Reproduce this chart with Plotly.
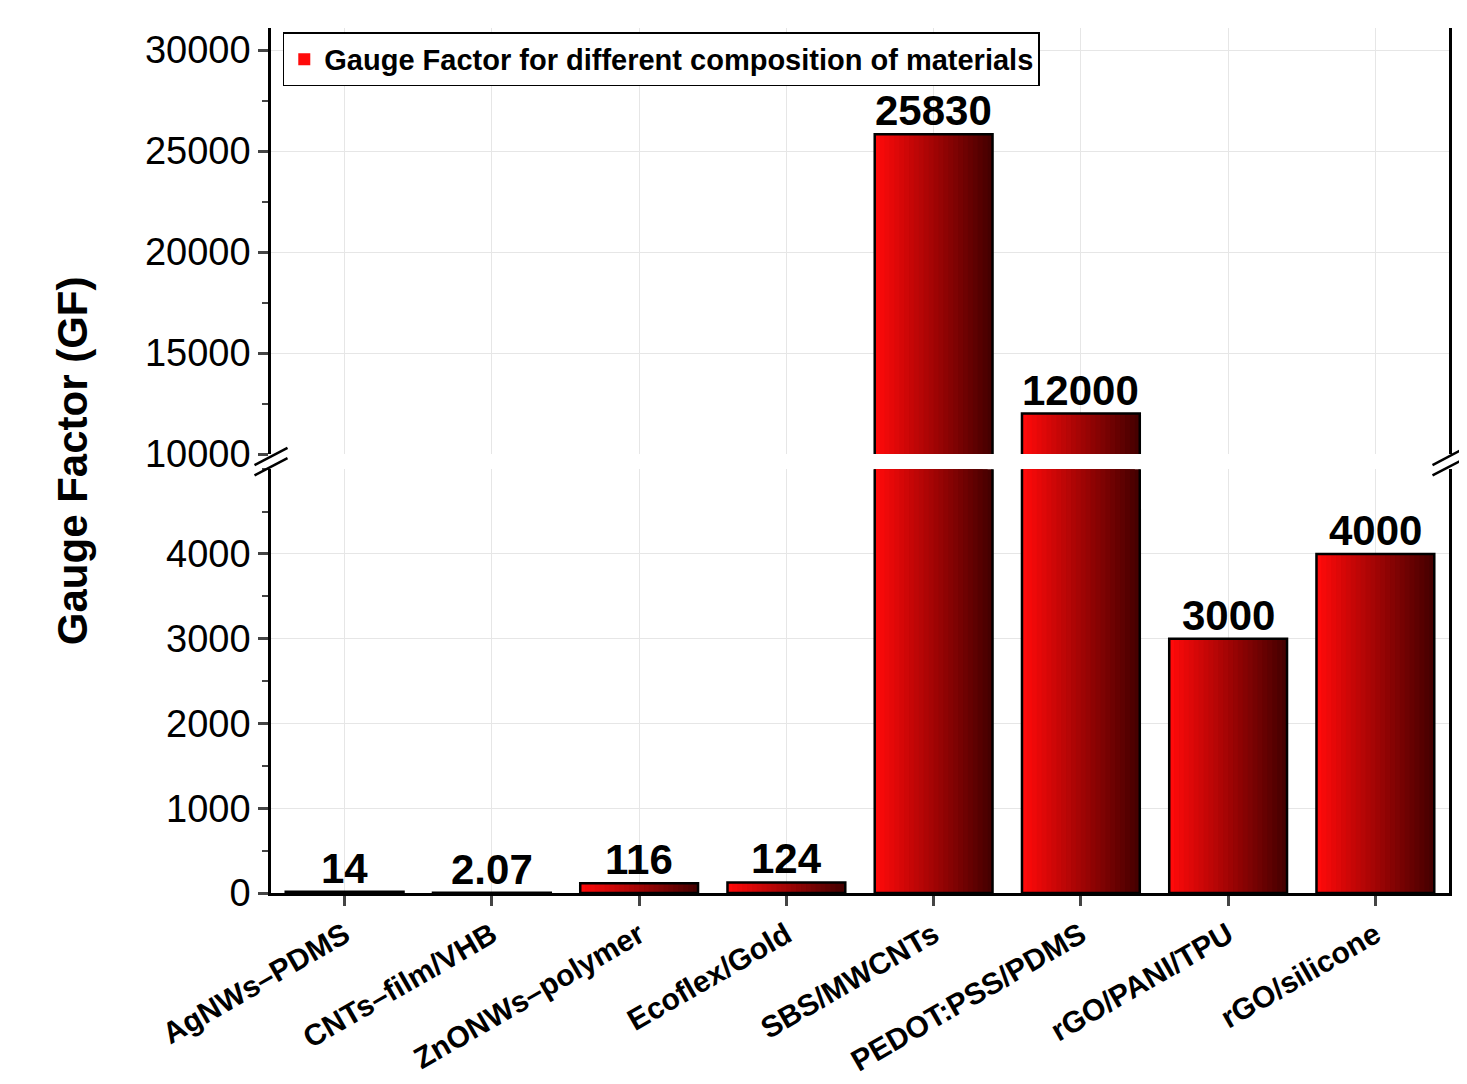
import plotly.graph_objects as go

materials = ["AgNWs–PDMS", "CNTs–film/VHB", "ZnONWs–polymer", "Ecoflex/Gold",
             "SBS/MWCNTs", "PEDOT:PSS/PDMS", "rGO/PANI/TPU", "rGO/silicone"]
gauge_factor = [14, 2.07, 116, 124, 25830, 12000, 3000, 4000]
labels = ["14", "2.07", "116", "124", "25830", "12000", "3000", "4000"]

low_ticks = [0, 1000, 2000, 3000, 4000]
high_ticks = [10000, 15000, 20000, 25000, 30000]
low_range = [0, 5000]
high_range = [10000, 31090]
FONT = "Liberation Sans, Arial"

fig = go.Figure()

# fake a left-to-right red->black gradient by stacking narrower, redder bars
steps = 24
for yax in ["y", "y2"]:
    for i in range(steps):
        t = i / (steps - 1)
        r = int(70 + (255 - 70) * t)
        col = f"rgb({r},{int(10 * t)},{int(10 * t)})"
        w = 0.8 * (1 - i / steps)
        fig.add_trace(go.Bar(
            x=materials, y=gauge_factor, yaxis=yax,
            width=w, offset=-0.4, marker=dict(color=col, line=dict(width=0)),
            showlegend=(yax == "y2" and i == steps - 1),
            name="<b>Gauge Factor for different composition of materials</b>",
            hoverinfo="skip"))
    # outline
    fig.add_trace(go.Bar(
        x=materials, y=gauge_factor, yaxis=yax, width=0.8, offset=-0.4,
        marker=dict(color="rgba(0,0,0,0)", line=dict(color="black", width=2.5)),
        showlegend=False, hoverinfo="skip"))

# value labels
for m, v, lab in zip(materials, gauge_factor, labels):
    fig.add_annotation(x=m, y=v, yref="y2" if v > low_range[1] else "y", text=f"<b>{lab}</b>",
                       showarrow=False, yanchor="bottom", yshift=-2,
                       font=dict(size=42, color="black", family=FONT))

tickfont = dict(size=38, color="black", family=FONT)
common = dict(showline=True, linecolor="black", linewidth=2.5, mirror=True,
              ticks="outside", ticklen=10, tickwidth=2.5, tickfont=tickfont,
              showgrid=True, gridcolor="#e6e6e6", zeroline=False, automargin=False,
              tickprefix="<b>", ticksuffix="</b>", tickformat="d")

fig.update_layout(
    width=1467, height=1084, barmode="overlay",
    plot_bgcolor="white", paper_bgcolor="white",
    margin=dict(l=263, r=26, t=20, b=199),
    xaxis=dict(anchor="y", tickangle=-30, showline=True, linecolor="black", linewidth=2.5,
               mirror=False, ticks="outside", ticklen=10, tickwidth=2.5, automargin=False,
               tickfont=dict(size=30, color="black", family=FONT),
               tickprefix="<b>", ticksuffix="</b>", showgrid=True, gridcolor="#e6e6e6"),
    xaxis2=dict(overlaying="x", anchor="y2", matches="x", showticklabels=False,
                showline=True, linecolor="black", linewidth=2.5, side="top", automargin=False),
    yaxis=dict(domain=[0, 0.490], range=low_range, tickvals=low_ticks,
               minor=dict(ticks="outside", ticklen=6, tickwidth=2, dtick=500, showgrid=False),
               **common),
    yaxis2=dict(domain=[0.5075, 1], range=high_range, tickvals=high_ticks,
                minor=dict(ticks="outside", ticklen=6, tickwidth=2, dtick=2500, showgrid=False),
                **common),
    legend=dict(x=0.01, y=0.995, xanchor="left", yanchor="top", bgcolor="white",
                bordercolor="black", borderwidth=1.5,
                font=dict(size=29, color="black", family=FONT)),
)

fig.add_annotation(text="<b>Gauge Factor (GF)</b>", xref="paper", yref="paper", x=-0.19, y=0.5,
                   textangle=-90, showarrow=False, font=dict(size=42, color="black", family=FONT))

# axis break marks
for xp in [0, 1]:
    for dy in [-0.006, 0.006]:
        fig.add_shape(type="line", xref="paper", yref="paper",
                      x0=xp - 0.014, x1=xp + 0.014, y0=0.4987 + dy - 0.01, y1=0.4987 + dy + 0.01,
                      line=dict(color="black", width=2.5))

fig.write_html("out.html")
